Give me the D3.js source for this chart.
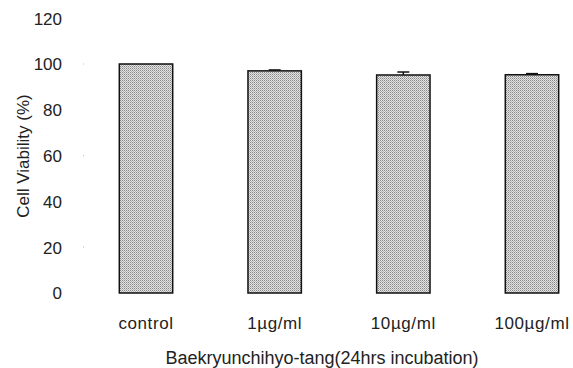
<!DOCTYPE html>
<html><head><meta charset="utf-8">
<script src="https://cdn.jsdelivr.net/npm/d3@7"></script>
<style>body{margin:0;background:#fff}svg{display:block}text{font-family:"Liberation Sans",Arial,sans-serif;fill:#222}</style>
</head><body>
<svg id="c" width="573" height="368"></svg>
<script>
const categories = ["control", "1\u00b5g/ml", "10\u00b5g/ml", "100\u00b5g/ml"];
const values = [100, 97, 95.2, 95.3];
const errors = [0, 0.4, 1.3, 0.5];
const yTicks = [0, 20, 40, 60, 80, 100, 120];
const xTitle = "Baekryunchihyo-tang(24hrs incubation)";
const yTitle = "Cell Viability (%)";

const svg = d3.select("#c");
const defs = svg.append("defs");
const pat = defs.append("pattern").attr("id","dots").attr("patternUnits","userSpaceOnUse")
  .attr("width",2).attr("height",2);
pat.append("rect").attr("width",2).attr("height",2).attr("fill","#e4e4e4");
pat.append("rect").attr("width",1).attr("height",1).attr("fill","#888");
pat.append("rect").attr("x",1).attr("y",1).attr("width",1).attr("height",1).attr("fill","#b0b0b0");

const y = d3.scaleLinear().domain([0,100]).range([293,64]);
const x = d3.scaleBand().domain(categories).range([82,596]).paddingInner(0.585).paddingOuter(0.29);

// y tick labels
const ya = d3.axisLeft(y).tickValues(yTicks).tickSize(0).tickPadding(0);
const yg = svg.append("g").attr("transform","translate(62,0)").call(ya);
yg.select(".domain").remove();
yg.selectAll("text").style("font-size","17px").attr("fill","#222").attr("dy","0.35em");

// faint tick marks
svg.append("g").selectAll("line").data([20,60,100]).join("line")
  .attr("x1",83).attr("x2",84).attr("y1",d=>y(d)).attr("y2",d=>y(d))
  .attr("stroke","#bbb");

// bars
svg.append("g").selectAll("rect").data(values).join("rect")
  .attr("x",(d,i)=>x(categories[i])).attr("y",d=>y(d))
  .attr("width",x.bandwidth()).attr("height",d=>y(0)-y(d))
  .attr("fill","url(#dots)").attr("stroke","#111").attr("stroke-width",1.5);

// error bars
const eg = svg.append("g").attr("stroke","#111").attr("stroke-width",1.5);
values.forEach((v,i)=>{
  if(!errors[i]) return;
  const cx = x(categories[i]) + x.bandwidth()/2;
  eg.append("line").attr("x1",cx).attr("x2",cx).attr("y1",y(v)).attr("y2",y(v+errors[i]));
  eg.append("line").attr("x1",cx-6).attr("x2",cx+6).attr("y1",y(v+errors[i])).attr("y2",y(v+errors[i]));
});

// x labels
const xa = d3.axisBottom(x).tickSize(0).tickPadding(0);
const xg = svg.append("g").attr("transform","translate(0,329)").call(xa);
xg.select(".domain").remove();
xg.selectAll("text").style("font-size","17px").style("letter-spacing","0.6px")
  .attr("fill","#222").attr("dy",0).attr("y",0);

svg.append("text").attr("x",322).attr("y",364).attr("text-anchor","middle")
  .style("font-size","18px").text(xTitle);
svg.append("text").attr("transform","translate(29,156) rotate(-90)").attr("text-anchor","middle")
  .style("font-size","17px").text(yTitle);
</script>
</body></html>
